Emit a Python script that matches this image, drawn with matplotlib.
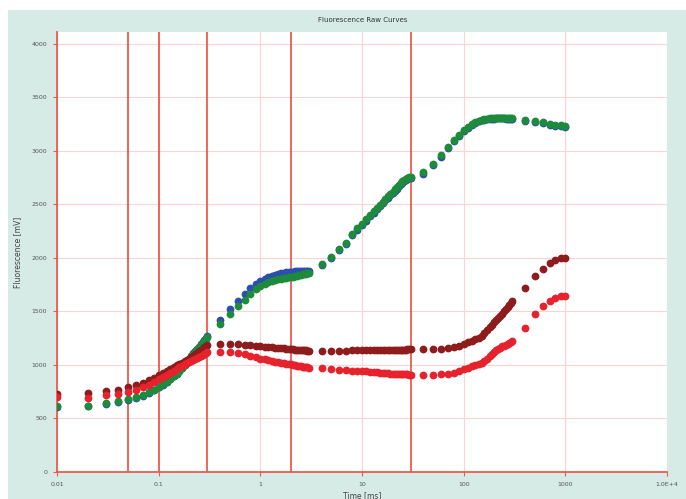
import matplotlib

matplotlib.use("Agg")
import matplotlib.pyplot as plt
from matplotlib.patches import Rectangle
from matplotlib.ticker import FixedLocator, NullLocator


# sampling times [ms]
time_ms = [
    0.01, 0.02, 0.03, 0.04, 0.05, 0.06, 0.07, 0.08, 0.09, 0.10,
    0.11, 0.12, 0.13, 0.14, 0.15, 0.16, 0.17, 0.18, 0.19, 0.20,
    0.21, 0.22, 0.23, 0.24, 0.25, 0.26, 0.27, 0.28, 0.29, 0.30,
    0.4, 0.5, 0.6, 0.7, 0.8, 0.9, 1.0, 1.1, 1.2, 1.3, 1.4, 1.5, 1.6, 1.7,
    1.8, 1.9, 2.0, 2.1, 2.2, 2.3, 2.4, 2.5, 2.6, 2.7, 2.8, 2.9, 3.0,
    4, 5, 6, 7, 8, 9, 10, 11, 12, 13, 14, 15, 16, 17, 18, 19, 20,
    21, 22, 23, 24, 25, 26, 27, 28, 29, 30,
    40, 50, 60, 70, 80, 90, 100, 110, 120, 130, 140, 150, 160, 170,
    180, 190, 200, 210, 220, 230, 240, 250, 260, 270, 280, 290, 300,
    400, 500, 600, 700, 800, 900, 1000,
]

green_mv = [
    615, 620, 640, 662, 680, 700, 720, 745, 770, 795,
    820, 845, 870, 895, 920, 945, 970, 995, 1025, 1055,
    1080, 1105, 1125, 1145, 1165, 1185, 1205, 1225, 1245, 1265,
    1380, 1475, 1550, 1610, 1660, 1705, 1740, 1760, 1775, 1785, 1795, 1800, 1805, 1810,
    1815, 1818, 1822, 1826, 1830, 1834, 1838, 1842, 1846, 1850, 1853, 1856, 1860,
    1944, 2010, 2085, 2140, 2225, 2275, 2320, 2360, 2400, 2435, 2465, 2495, 2525, 2550,
    2575, 2600, 2620, 2640, 2660, 2680, 2700, 2715, 2730, 2740, 2750, 2755, 2760,
    2800, 2880, 2960, 3040, 3100, 3150, 3195, 3225, 3250, 3270, 3283, 3292, 3298, 3302,
    3305, 3307, 3308, 3309, 3310, 3310, 3310, 3309, 3308, 3307, 3306, 3305, 3303,
    3288, 3278, 3268, 3255, 3245, 3238, 3230,
]

blue_mv = [
    605, 612, 632, 655, 672, 692, 712, 738, 764, 790,
    815, 842, 868, 894, 920, 946, 972, 998, 1028, 1058,
    1084, 1110, 1132, 1152, 1172, 1192, 1212, 1232, 1250, 1268,
    1420, 1520, 1600, 1665, 1715, 1755, 1785, 1805, 1820, 1832, 1842, 1850, 1856, 1861,
    1865, 1868, 1870, 1872, 1873, 1874, 1875, 1876, 1876, 1877, 1877, 1877, 1878,
    1932, 1998, 2072, 2128, 2212, 2263, 2308, 2348, 2388, 2423, 2453, 2483, 2513, 2538,
    2563, 2588, 2608, 2628, 2648, 2668, 2688, 2703, 2718, 2728, 2738, 2743, 2748,
    2785, 2865, 2945, 3025, 3088, 3140, 3185, 3217, 3243, 3263, 3277, 3286, 3292, 3296,
    3299, 3301, 3302, 3303, 3304, 3304, 3304, 3303, 3302, 3301, 3300, 3299, 3297,
    3280, 3270, 3258, 3245, 3235, 3228, 3222,
]

darkred_mv = [
    730, 735, 755, 770, 790, 810, 830, 855, 880, 905,
    922, 940, 958, 977, 995, 1010, 1022, 1035, 1045, 1055,
    1070, 1085, 1100, 1115, 1128, 1140, 1152, 1165, 1178, 1190,
    1195, 1198, 1195, 1190, 1185, 1180, 1176, 1172, 1168, 1165, 1162, 1159, 1157, 1155,
    1152, 1150, 1148, 1146, 1144, 1142, 1140, 1139, 1137, 1136, 1135, 1134, 1133,
    1132, 1132, 1133, 1134, 1135, 1136, 1137, 1137, 1138, 1138, 1139, 1139, 1140, 1140,
    1141, 1141, 1142, 1142, 1143, 1143, 1143, 1144, 1144, 1144, 1145, 1145, 1145,
    1145, 1146, 1150, 1158, 1168, 1180, 1195, 1210, 1225, 1238, 1252, 1275, 1300, 1325,
    1350, 1375, 1400, 1420, 1440, 1460, 1480, 1500, 1520, 1540, 1560, 1578, 1595,
    1720, 1830, 1895, 1950, 1978, 1995, 2000,
]

red_mv = [
    705, 695, 715, 725, 750, 770, 790, 815, 840, 865,
    885, 905, 925, 945, 962, 978, 993, 1005, 1015, 1025,
    1035, 1045, 1055, 1065, 1075, 1085, 1095, 1105, 1115, 1125,
    1125, 1120, 1110, 1098, 1085, 1072, 1060, 1052, 1045, 1038, 1032, 1027, 1022, 1017,
    1013, 1009, 1005, 1001, 997, 994, 991, 988, 985, 982, 980, 978, 976,
    968, 962, 957, 952, 948, 945, 942, 939, 936, 933, 930, 928, 926, 924,
    922, 920, 919, 918, 917, 916, 915, 914, 913, 912, 911, 910, 910,
    910, 910, 912, 918, 928, 945, 962, 975, 988, 998, 1008, 1022, 1040, 1060,
    1080, 1100, 1120, 1135, 1150, 1162, 1175, 1180, 1190, 1198, 1205, 1213, 1220,
    1343, 1474, 1550, 1596, 1625, 1640, 1645,
]

# OJIP marker times [ms]
marker_times = [0.05, 0.1, 0.3, 2, 30]

x_ticks = [0.01, 0.1, 1, 10, 100, 1000, 10000]
x_tick_labels = ["0.01", "0.1", "1", "10", "100", "1000", "1.0E+4"]
y_ticks = [0, 500, 1000, 1500, 2000, 2500, 3000, 3500, 4000]

fig = plt.figure(figsize=(6.86, 4.99), dpi=100, facecolor="white")
fig.patches.append(
    Rectangle((8 / 686, 0), 1 - 8 / 686, 489 / 499, transform=fig.transFigure,
              facecolor="#d6ebe6", edgecolor="none", zorder=-10)
)
ax = fig.add_axes([57 / 686, 27 / 499, 610 / 686, 440 / 499])
ax.set_zorder(1)
ax.set_facecolor("white")

line_red = "#ee5a4e"
ax.set_xscale("log")
ax.set_xlim(0.01, 10000)
ax.set_ylim(0, 4110)

ax.xaxis.set_major_locator(FixedLocator(x_ticks))
ax.xaxis.set_minor_locator(NullLocator())
ax.set_xticklabels(x_tick_labels)
ax.set_yticks(y_ticks)
ax.grid(True, color="#fbd3d3", linewidth=0.8, zorder=0)
ax.set_axisbelow(True)

for t in marker_times:
    ax.axvline(t, color=line_red, linewidth=1.3, zorder=1)

styles = [
    (blue_mv, "#2b4fae"),
    (green_mv, "#1e8a3c"),
    (darkred_mv, "#8e1c1c"),
    (red_mv, "#e6232d"),
]
for values, color in styles:
    ax.plot(time_ms, values, linestyle="none", marker="o", markersize=5.6,
            markeredgewidth=0, color=color, zorder=3)

for side in ("top", "right"):
    ax.spines[side].set_visible(False)
for side in ("left", "bottom"):
    ax.spines[side].set_color(line_red)
    ax.spines[side].set_linewidth(1.3)

ax.tick_params(axis="both", which="major", colors=line_red, length=3, width=0.8,
               labelsize=4.5, labelcolor="#555555", pad=4)

ax.set_xlabel("Time [ms]", fontsize=5.5, color="#444444", labelpad=3)
ax.set_ylabel("Fluorescence [mV]", fontsize=5.5, color="#444444", labelpad=7)
fig.text(363 / 686, 1 - 20 / 499, "Fluorescence Raw Curves", fontsize=5,
         color="#333333", ha="center", va="center")

fig.savefig("out.png", dpi=100, facecolor=fig.get_facecolor())
